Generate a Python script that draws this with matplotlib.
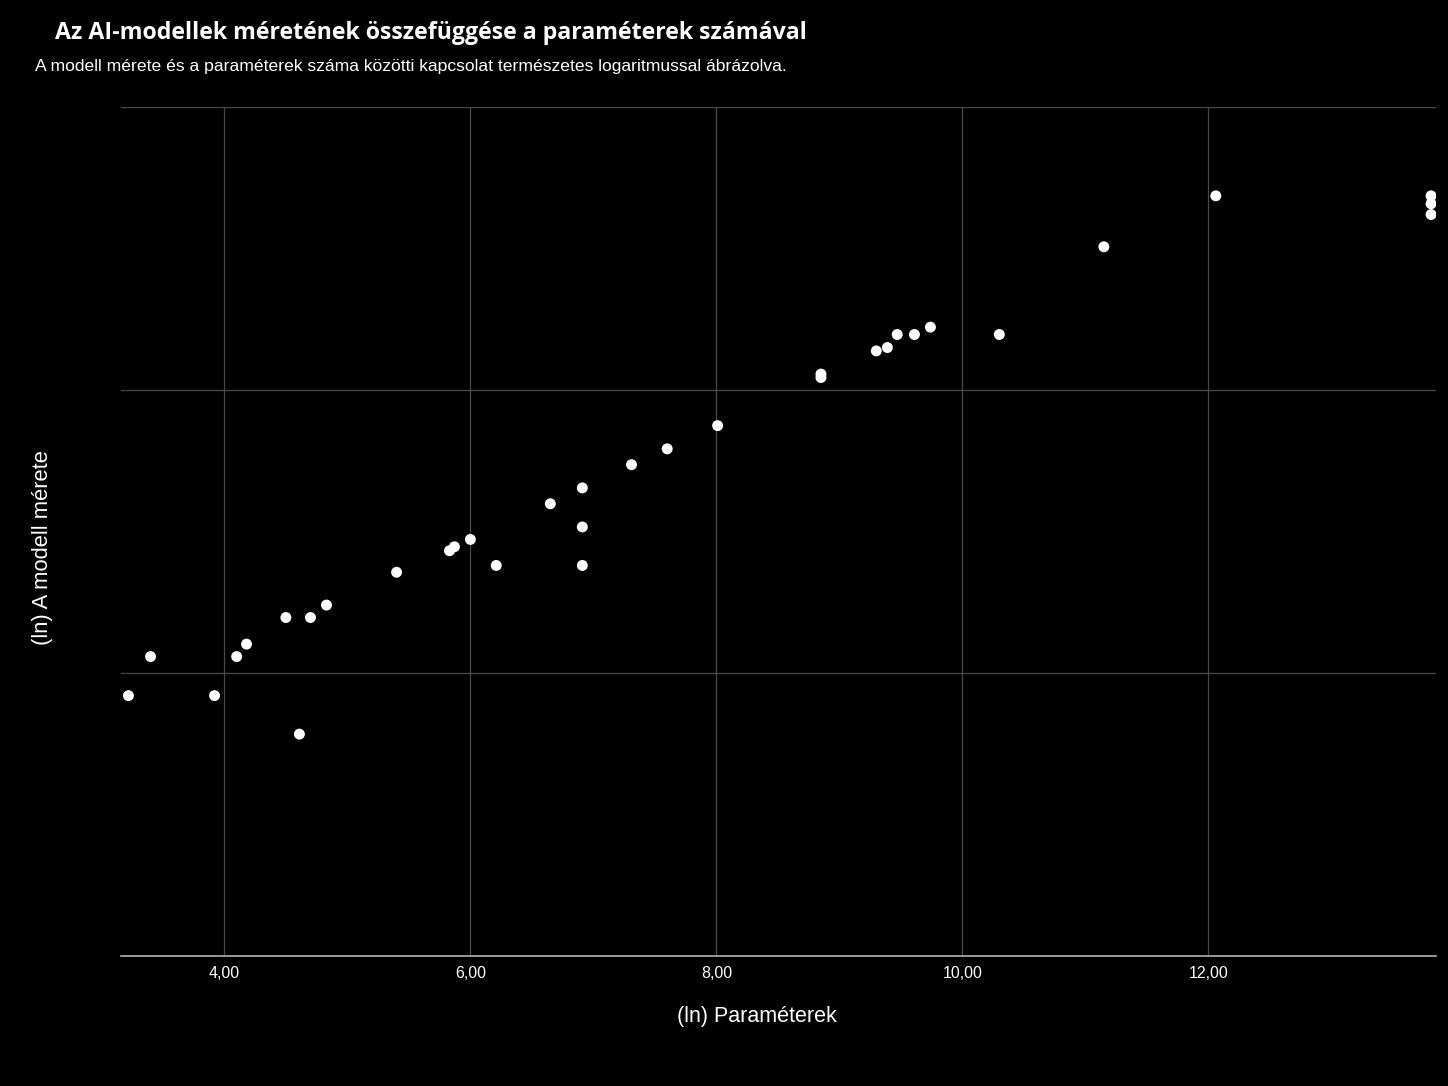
import numpy as np
import matplotlib.pyplot as plt

# (ln) paraméterek és (ln) modellméret
ln_params = [3.22, 3.40, 3.92, 4.10, 4.18, 4.50, 4.70, 4.83, 4.61,
             5.40, 5.83, 5.87, 6.00, 6.21, 6.65, 6.91, 6.91, 6.91,
             7.31, 7.60, 8.01, 8.85, 8.85, 9.30, 9.39, 9.47, 9.61,
             9.74, 10.30, 11.15, 12.06, 13.81, 13.81, 13.81]
ln_size = [4.60, 5.29, 4.60, 5.29, 5.51, 5.98, 5.98, 6.20, 3.92,
           6.78, 7.16, 7.23, 7.36, 6.90, 7.99, 8.27, 7.58, 6.90,
           8.68, 8.96, 9.37, 10.28, 10.22, 10.69, 10.75, 10.98, 10.98,
           11.11, 10.98, 12.53, 13.43, 13.43, 13.29, 13.10]

xticks = [4, 6, 8, 10, 12]
xtick_labels = ["4,00", "6,00", "8,00", "10,00", "12,00"]

title = "Az AI-modellek méretének összefüggése a paraméterek számával"
subtitle = "A modell mérete és a paraméterek száma közötti kapcsolat természetes logaritmussal ábrázolva."

plt.rcParams['font.family'] = ['Liberation Sans', 'DejaVu Sans']

fig = plt.figure(figsize=(14.48, 10.86), dpi=100, facecolor='black')
ax = fig.add_axes([0.0836, 0.1197, 0.9081, 0.7818])
ax.set_facecolor('black')

ax.scatter(ln_params, ln_size, s=62, color='white', edgecolors='none', zorder=3)

ax.set_xlim(3.16, 13.85)
ax.set_ylim(0, 15)
ax.set_xticks(xticks)
ax.set_xticklabels(xtick_labels, color='white', fontsize=11.5)
ax.set_yticks([0, 5, 10, 15])
ax.set_yticklabels([])
ax.tick_params(axis='both', length=0, pad=7)
ax.grid(True, color='#4a4a4a', linewidth=0.9)

for side in ['top', 'right', 'left']:
    ax.spines[side].set_visible(False)
ax.spines['bottom'].set_color('#b0b0b0')
ax.spines['bottom'].set_linewidth(1.2)

ax.set_xlabel("(ln) Paraméterek", color='white', fontsize=15.5, va='center')
ax.xaxis.set_label_coords(0.4837, -0.0718)
ax.set_ylabel("(ln) A modell mérete", color='white', fontsize=15.8, va='center')
ax.yaxis.set_label_coords(-0.0601, 0.4806)

fig.text(0.038, 0.970, title, color='white', fontsize=16.7, fontweight='bold',
         va='center', ha='left', family=['Open Sans', 'DejaVu Sans'])
fig.text(0.024, 0.939, subtitle, color='white', fontsize=12.6, va='center', ha='left')

fig.savefig("out.png", dpi=100, facecolor='black')
